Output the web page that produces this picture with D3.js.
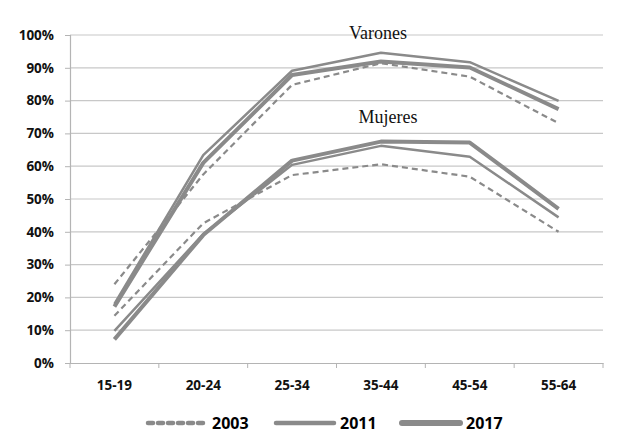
<!DOCTYPE html>
<html>
<head>
<meta charset="utf-8">
<script src="https://cdn.jsdelivr.net/npm/d3@7"></script>
<style>
    body { margin: 0; background: #fff; }
    .tick-label { font-family: "Open Sans", sans-serif; font-weight: bold; font-size: 13.5px; fill: #111; }
    .legend-label { font-family: "Open Sans", sans-serif; font-weight: bold; font-size: 16px; fill: #000; }
    .group-label { font-family: "Liberation Serif", "Times New Roman", serif; font-size: 18px; fill: #111; }
</style>
</head>
<body>
<div id="chart"></div>
<script>
// data (percent)
var ages = ["15-19", "20-24", "25-34", "35-44", "45-54", "55-64"];
var years = ["2003", "2011", "2017"];
var yTicks = [0, 10, 20, 30, 40, 50, 60, 70, 80, 90, 100];

var varones2003 = [24.0, 57.5, 84.8, 91.4, 87.3, 73.1];
var varones2011 = [18.0, 63.4, 89.1, 94.6, 91.7, 79.9];
var varones2017 = [17.2, 61.0, 87.8, 91.9, 90.1, 77.4];

var mujeres2003 = [14.4, 42.6, 57.3, 60.6, 56.8, 40.0];
var mujeres2011 = [9.8, 39.3, 60.4, 66.2, 62.9, 44.4];
var mujeres2017 = [7.2, 39.0, 61.7, 67.5, 67.2, 47.0];

var LineChart = function(input) {
    this.input = input;
    this.draw();
}

LineChart.prototype.draw = function() {
    // Define dimensions of vis
    this.margin = { top: 35, right: 17, bottom: 70, left: 70 };
    this.width  = 620 - this.margin.left - this.margin.right;
    this.height = 433 - this.margin.top - this.margin.bottom;

    var svg = d3.select(this.input.div_element)
        .append("svg")
        .attr("width", 620)
        .attr("height", 433);

    this.svg = svg;
    this.canvas = svg.append("g")
        .attr("transform", "translate(" + this.margin.left + "," + this.margin.top + ")");

    this.addAxes();
    this.addLines();
    this.addLabels();
    this.addLegend();
}

LineChart.prototype.addAxes = function() {
    var chart_this = this;

    this.xScale = d3.scaleBand()
        .domain(ages)
        .range([0, this.width]);

    this.yScale = d3.scaleLinear()
        .domain([0, 100])
        .range([this.height, 0]);

    // horizontal gridlines
    this.canvas.selectAll(".grid")
        .data(yTicks.filter(d => d > 0))
        .enter().append("line")
        .attr("class", "grid")
        .attr("x1", 0)
        .attr("x2", this.width)
        .attr("y1", d => chart_this.yScale(d))
        .attr("y2", d => chart_this.yScale(d))
        .attr("stroke", "#c8c8c8")
        .attr("stroke-width", 1.2);

    // y axis
    var yAxis = d3.axisLeft(this.yScale)
        .tickValues(yTicks)
        .tickFormat(d => d + "%")
        .tickSize(5)
        .tickPadding(11);

    var yg = this.canvas.append("g").call(yAxis);
    yg.select(".domain").attr("stroke", "#b4b4b4").attr("stroke-width", 1.2);
    yg.selectAll(".tick line").attr("stroke", "#b4b4b4");
    yg.selectAll(".tick text").attr("class", "tick-label").attr("font-family", null).attr("font-size", null);

    // x axis, ticks on band edges
    var xAxis = d3.axisBottom(this.xScale)
        .tickSize(0)
        .tickPadding(17);

    var xg = this.canvas.append("g")
        .attr("transform", "translate(0," + this.height + ")")
        .call(xAxis);
    xg.select(".domain").attr("stroke", "#b4b4b4").attr("stroke-width", 1.2);
    xg.selectAll(".tick text").attr("class", "tick-label").attr("font-family", null).attr("font-size", null);

    var edges = ages.map(d => chart_this.xScale(d)).concat([this.width]);
    xg.selectAll(".edge")
        .data(edges)
        .enter().append("line")
        .attr("class", "edge")
        .attr("x1", d => d)
        .attr("x2", d => d)
        .attr("y1", 0)
        .attr("y2", 5)
        .attr("stroke", "#b4b4b4");
}

LineChart.prototype.addLines = function() {
    var chart_this = this;
    var bw = this.xScale.bandwidth();

    var line = d3.line()
        .x((d, i) => chart_this.xScale(ages[i]) + bw / 2)
        .y(d => chart_this.yScale(d));

    var series = [
        { values: varones2003, year: "2003" },
        { values: mujeres2003, year: "2003" },
        { values: varones2011, year: "2011" },
        { values: mujeres2011, year: "2011" },
        { values: varones2017, year: "2017" },
        { values: mujeres2017, year: "2017" }
    ];

    this.canvas.selectAll(".serie")
        .data(series)
        .enter().append("path")
        .attr("class", "serie")
        .attr("d", d => line(d.values))
        .attr("fill", "none")
        .attr("stroke", "#8a8a8a")
        .attr("stroke-linejoin", "round")
        .attr("stroke-width", d => chart_this.input.widths[d.year])
        .attr("stroke-dasharray", d => d.year == "2003" ? "6,4" : null);
}

LineChart.prototype.addLabels = function() {
    var bw = this.xScale.bandwidth();
    var cx = this.xScale("35-44") + bw / 2;

    this.canvas.append("text")
        .attr("class", "group-label")
        .attr("text-anchor", "middle")
        .attr("x", cx - 3)
        .attr("y", 4)
        .text("Varones");

    this.canvas.append("text")
        .attr("class", "group-label")
        .attr("text-anchor", "middle")
        .attr("x", cx + 7)
        .attr("y", 88)
        .text("Mujeres");
}

LineChart.prototype.addLegend = function() {
    var legendX = [148, 276, 402];

    var items = this.svg.selectAll(".legend")
        .data(years)
        .enter().append("g")
        .attr("class", "legend")
        .attr("transform", (d, i) => "translate(" + legendX[i] + ",423)");

    items.append("line")
        .attr("x1", 0)
        .attr("x2", 58)
        .attr("y1", 0)
        .attr("y2", 0)
        .attr("stroke", "#8a8a8a")
        .attr("stroke-linecap", "round")
        .attr("stroke-width", d => d == "2017" ? 6 : 4.5)
        .attr("stroke-dasharray", d => d == "2003" ? "5,5" : null);

    items.append("text")
        .attr("class", "legend-label")
        .attr("x", 64)
        .attr("y", 6)
        .text(d => d);
}

var chart = new LineChart({
    div_element: "#chart",
    widths: { "2003": 2.2, "2011": 2.5, "2017": 4 }
});
</script>
</body>
</html>
